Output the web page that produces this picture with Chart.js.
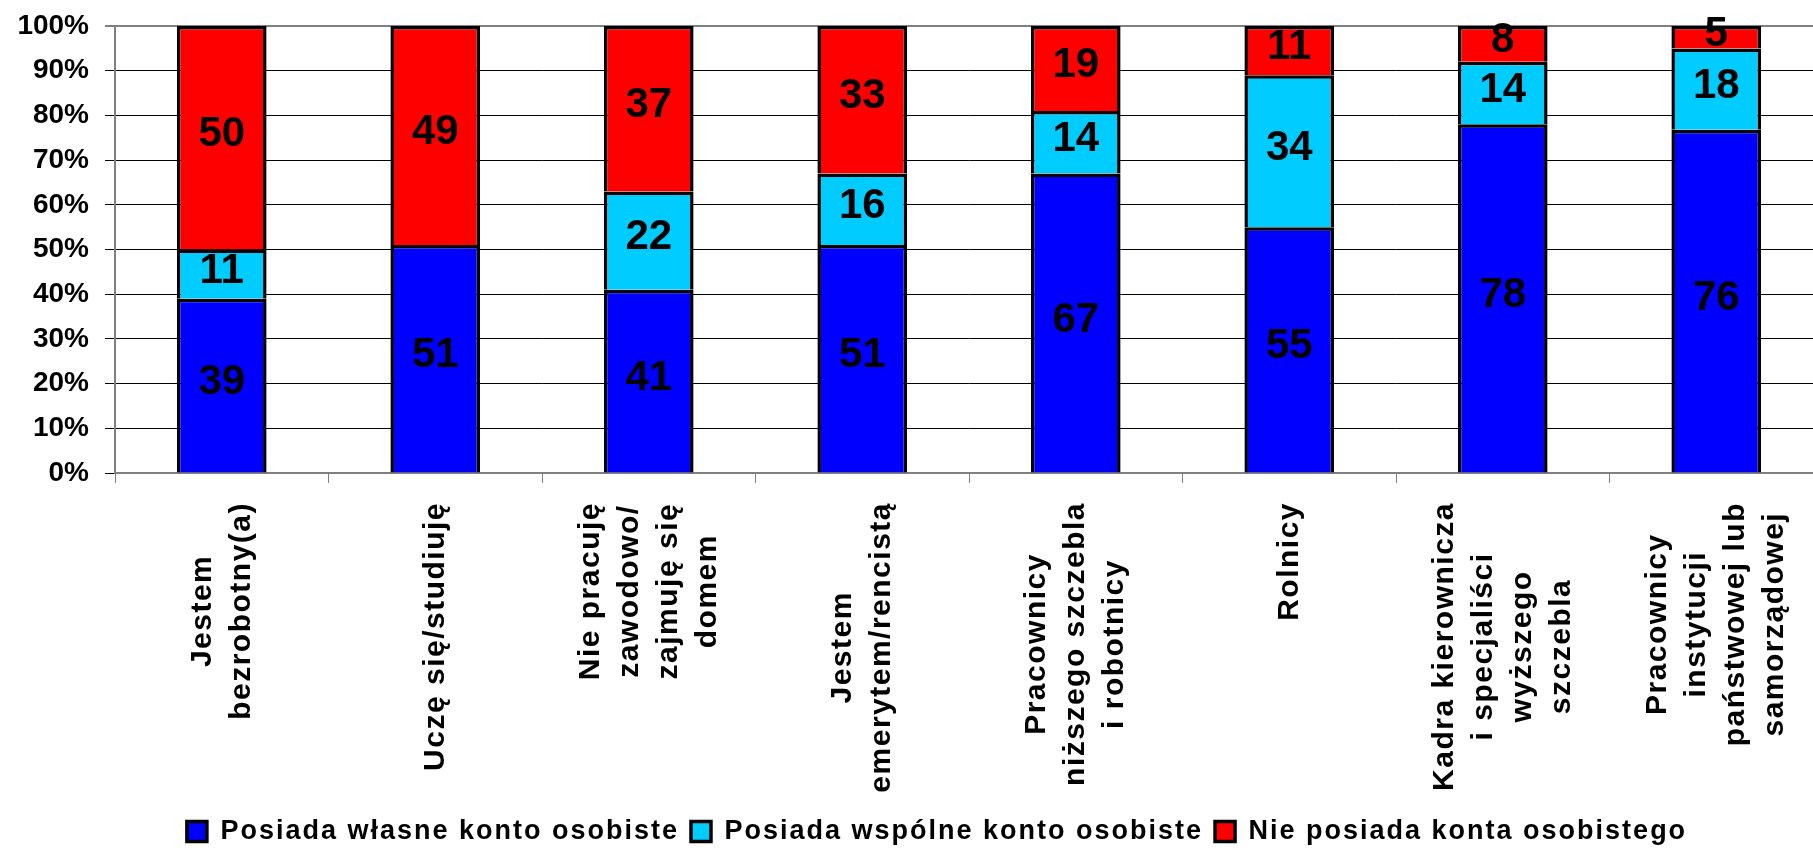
<!DOCTYPE html>
<html>
<head>
<meta charset="utf-8">
<title>Konto osobiste</title>
<script src="https://cdn.jsdelivr.net/npm/chart.js"></script>
<style>
html, body { margin: 0; padding: 0; background: #fff; overflow: hidden; }
#wykres { display: block; }
</style>
</head>
<body>
<canvas id="wykres" width="1874" height="855"></canvas>
<script>

// dane z wykresu (w procentach)
var kategorie = [
  ["Jestem", "bezrobotny(a)"],
  ["Uczę się/studiuję"],
  ["Nie pracuję", "zawodowo/", "zajmuję się", "domem"],
  ["Jestem", "emerytem/rencistą"],
  ["Pracownicy", "niższego szczebla", "i robotnicy"],
  ["Rolnicy"],
  ["Kadra kierownicza", "i specjaliści", "wyższego", "szczebla"],
  ["Pracownicy", "instytucji", "państwowej lub", "samorządowej"]
];
var wlasne  = [39, 51, 41, 51, 67, 55, 78, 76];
var wspolne = [11, 0, 22, 16, 14, 34, 14, 18];
var brak    = [50, 49, 37, 33, 19, 11, 8, 5];
var nazwySerii = ["Posiada własne konto osobiste", "Posiada wspólne konto osobiste", "Nie posiada konta osobistego"];
var kolory = ["#0000ff", "#00ccff", "#ff0000"];

var serie = [wlasne, wspolne, brak];
var czcionka = '"Liberation Sans", Arial, sans-serif';

// wykres 100% skumulowany - kazdy slupek do 100
function naProcent(seria) {
  return seria.map(function (v, i) {
    var suma = wlasne[i] + wspolne[i] + brak[i];
    return v / suma * 100;
  });
}

var zestawy = [];
for (var d = 0; d < serie.length; d++) {
  zestawy.push({
    label: nazwySerii[d],
    data: naProcent(serie[d]),
    backgroundColor: kolory[d],
    borderColor: '#000',
    borderWidth: 3.5,
    barPercentage: 0.42,
    categoryPercentage: 1
  });
}

// rozstrzelone litery w legendzie
var odstepy = {
  id: 'odstepy',
  beforeLayout: function (chart) { chart.ctx.letterSpacing = '2px'; },
  beforeDraw: function (chart) { chart.ctx.letterSpacing = '2px'; },
  beforeDatasetsDraw: function (chart) { chart.ctx.letterSpacing = '0px'; }
};

var etykiety = {
  id: 'etykiety',
  afterDatasetsDraw: function (chart) {
    var ctx = chart.ctx;
    ctx.save();
    ctx.letterSpacing = '0px';
    ctx.font = 'bold 42px ' + czcionka;
    ctx.fillStyle = '#000';
    ctx.textAlign = 'center';
    ctx.textBaseline = 'middle';
    serie.forEach(function (seria, d) {
      var meta = chart.getDatasetMeta(d);
      meta.data.forEach(function (bar, i) {
        if (!seria[i]) return;
        ctx.fillText(String(seria[i]), bar.x, (bar.y + bar.base) / 2 - 3);
      });
    });
    ctx.restore();
  },
  afterDraw: function (chart) {
    // podpisy osi X - linie wysrodkowane wzgledem najdluzszej
    var ctx = chart.ctx;
    var os = chart.scales.x;
    ctx.save();
    ctx.letterSpacing = '1.5px';
    ctx.font = 'bold 30px ' + czcionka;
    ctx.fillStyle = '#000';
    ctx.textAlign = 'center';
    ctx.textBaseline = 'middle';
    kategorie.forEach(function (linie, i) {
      var x = os.getPixelForValue(i);
      var najdluzsza = 0;
      linie.forEach(function (l) {
        najdluzsza = Math.max(najdluzsza, ctx.measureText(l).width);
      });
      ctx.save();
      ctx.translate(x, os.top + 29);
      ctx.rotate(-Math.PI / 2);
      linie.forEach(function (l, j) {
        ctx.fillText(l, -najdluzsza / 2, (j - (linie.length - 1) / 2) * 39);
      });
      ctx.restore();
    });
    ctx.restore();
  }
};

var ctx = document.getElementById("wykres");

var wykres = new Chart(ctx, {
  type: 'bar',
  data: {
    labels: kategorie,
    datasets: zestawy
  },
  options: {
    responsive: false,
    animation: false,
    layout: { padding: { left: 0, top: 26, right: 0, bottom: 0 } },
    plugins: {
      legend: {
        position: 'bottom',
        labels: {
          boxWidth: 20,
          boxHeight: 20,
          padding: 12,
          color: '#000',
          font: { family: czcionka, size: 27, weight: 'bold' }
        }
      },
      tooltip: { enabled: false }
    },
    scales: {
      x: {
        stacked: true,
        grid: { display: true, drawOnChartArea: false, drawTicks: true, tickLength: 10, color: '#808080', lineWidth: 1 },
        border: { color: '#808080', width: 2 },
        ticks: { display: false },
        afterFit: function (s) { s.height = 333; }
      },
      y: {
        stacked: true,
        min: 0,
        max: 100,
        ticks: {
          stepSize: 10,
          callback: function (v) { return v + '%'; },
          color: '#000',
          padding: 16,
          z: 1,
          font: { family: czcionka, size: 28, weight: 'bold' }
        },
        grid: {
          color: function (c) { return c.tick && c.tick.value === 100 ? '#808080' : '#000'; },
          lineWidth: function (c) { return c.tick && c.tick.value === 100 ? 2 : 1; },
          tickLength: 10
        },
        border: { color: '#808080', width: 2 },
        afterFit: function (s) {
          s.width = 115;
          s.paddingTop = 0;
          s.paddingBottom = 0;
        }
      },
      // pusta os po prawej - tylko po to, zeby legenda byla przesunieta jak w oryginale
      prawa: {
        type: 'linear',
        position: 'right',
        display: true,
        grid: { display: false },
        ticks: { display: false },
        border: { display: false },
        afterFit: function (s) { s.width = 51; }
      }
    }
  },
  plugins: [odstepy, etykiety]
});

</script>
</body>
</html>
